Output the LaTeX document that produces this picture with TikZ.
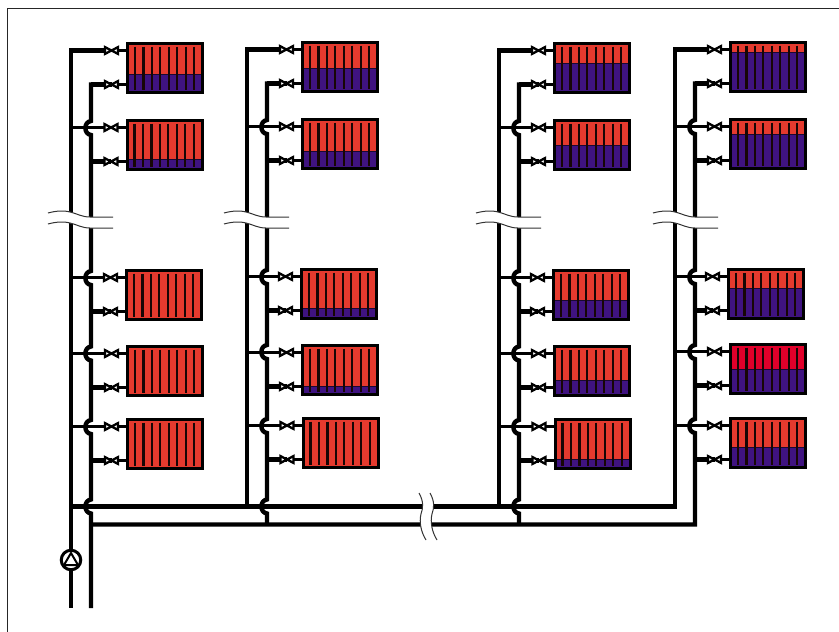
\documentclass[tikz,border=0pt]{standalone}
\definecolor{radred}{HTML}{E53A2E}
\definecolor{hotred}{HTML}{E0002A}
\definecolor{radblue}{HTML}{3F1380}
\tikzset{
  x=1pt,y=-1pt,
  pipe/.style={line width=4.4pt,line join=miter,draw=black},
  stub/.style={line width=2.6pt,draw=black},
  bowtie/.style={line width=2.3pt,draw=black,fill=white,line join=miter},
  radbox/.style={draw=black,line width=3pt,minimum width=75pt,minimum height=49pt,inner sep=0pt,anchor=north west},
  fin/.style={line width=2.2pt,draw=black!90!radred},
  breakline/.style={line width=1pt,draw=black!80}
}
\newcommand{\HopAt}[2]{-- (#1,#2-7) .. controls (#1-7.5,#2-6) and (#1-7.5,#2+6) .. (#1,#2+7)}
\newcommand{\ValveAt}[1]{%
  \draw[bowtie] ([shift={(-6.5,-3.4)}]#1) -- ([shift={(-6.5,3.4)}]#1) -- (#1) -- cycle;
  \draw[bowtie] ([shift={(6.5,-3.4)}]#1) -- ([shift={(6.5,3.4)}]#1) -- (#1) -- cycle;
}
% name, x1, x2, left, top, split, colour
\newcommand{\Radiator}[7]{%
  \fill[#7] (#4+1.5,#5+1.5) rectangle (#4+76.5,#5+50.5);
  \fill[radblue] (#4+1.5,#6) rectangle (#4+76.5,#5+50.5);
  \draw[line width=0.7pt,draw=black!60!radblue] (#4+1.5,#6) -- (#4+76.5,#6);
  \foreach \i in {0,...,7}{\draw[fin] (#4+9+\i*8.45,#5+4.5) -- (#4+9+\i*8.45,#5+47.5);}
  \node[radbox] (#1) at (#4,#5) {};
  \coordinate (#1a) at (#4-14.5,#5+8.5);
  \coordinate (#1b) at (#4-14.5,#5+42.5);
  \coordinate (#1s) at (#2,#5+8.5);
  \coordinate (#1r) at (#3,#5+42.5);
  \draw[line width=3.6pt] (#1s) -- (#1a);
  \draw[pipe] (#1r) -- (#1b);
  \draw[stub] (#1a) -- (#1a -| #1.west);
  \draw[stub] (#1b) -- (#1b -| #1.west);
  \ValveAt{#1a}
  \ValveAt{#1b}
}
\newcommand{\Vbreak}[1]{%
  \fill[white] (#1,213) .. controls (#1+8,211) and (#1+14,210) .. (#1+22,212) .. controls (#1+30,214) and (#1+34,217) .. (#1+42,217) -- (#1+65,217)
    -- (#1+65,228) -- (#1+42,228) .. controls (#1+34,228) and (#1+30,225) .. (#1+22,223) .. controls (#1+14,221) and (#1+8,222) .. (#1,224) -- cycle;
  \draw[breakline] (#1,213) .. controls (#1+8,211) and (#1+14,210) .. (#1+22,212) .. controls (#1+30,214) and (#1+34,217) .. (#1+42,217) -- (#1+65,217);
  \draw[breakline] (#1,224) .. controls (#1+8,222) and (#1+14,221) .. (#1+22,223) .. controls (#1+30,225) and (#1+34,228) .. (#1+42,228) -- (#1+65,228);
}
\begin{document}
\begin{tikzpicture}
\useasboundingbox (0,0) rectangle (839,632);
\draw[line width=1pt,draw=black!85] (7,632) -- (7,8.5) -- (839,8.5);

% column 1
\draw[pipe] (108,50.5) -- (71,50.5) -- (71,549);
\draw[pipe] (71,570) -- (71,608);
\draw[pipe] (100,84.5) -- (91,84.5) \HopAt{91}{128} \HopAt{91}{278} \HopAt{91}{353.5} \HopAt{91}{427} \HopAt{91}{506.5} -- (91,608);
% column 2
\draw[pipe] (284,49.5) -- (247,49.5) -- (247,506.5);
\draw[pipe] (276,83.5) -- (267,83.5) \HopAt{267}{127} \HopAt{267}{277} \HopAt{267}{352} \HopAt{267}{426} \HopAt{267}{506.5} -- (267,524.5);
% column 3
\draw[pipe] (536,50.5) -- (499,50.5) -- (499,506.5);
\draw[pipe] (528,84.5) -- (519,84.5) \HopAt{519}{128} \HopAt{519}{278} \HopAt{519}{353.5} \HopAt{519}{427} \HopAt{519}{506.5} -- (519,524.5);
% column 4 and the mains
\draw[pipe] (712,49.5) -- (675,49.5) -- (675,506.5) -- (71,506.5);
\draw[pipe] (704,83.5) -- (695,83.5) \HopAt{695}{127} \HopAt{695}{277} \HopAt{695}{352} \HopAt{695}{426} -- (695,524.5) -- (91,524.5);

% radiators
\Radiator{aA}{71}{91}{126}{42}{74}{radred}
\Radiator{aB}{71}{91}{125.5}{119}{159}{radred}
\Radiator{aC}{71}{91}{125}{269}{319}{radred}
\Radiator{aD}{71}{91}{126}{345}{395}{radred}
\Radiator{aE}{71}{91}{126}{418}{468}{radred}

\Radiator{bA}{247}{267}{301}{41}{68}{radred}
\Radiator{bB}{247}{267}{301}{118}{151}{radred}
\Radiator{bC}{247}{267}{300}{268}{308}{radred}
\Radiator{bD}{247}{267}{301}{344}{386}{radred}
\Radiator{bE}{247}{267}{301.5}{417}{467}{radred}

\Radiator{cA}{499}{519}{553}{42}{63}{radred}
\Radiator{cB}{499}{519}{553}{119}{145}{radred}
\Radiator{cC}{499}{519}{552}{269}{300}{radred}
\Radiator{cD}{499}{519}{553}{345}{380}{radred}
\Radiator{cE}{499}{519}{553.5}{418}{459}{radred}

\Radiator{dA}{675}{695}{729}{41}{52}{radred}
\Radiator{dB}{675}{695}{729}{118}{134}{radred}
\Radiator{dC}{675}{695}{727}{268}{288}{radred}
\Radiator{dD}{675}{695}{729}{343}{369}{hotred}
\Radiator{dE}{675}{695}{729}{417}{447}{radred}

% breaks in the risers
\Vbreak{48}
\Vbreak{224}
\Vbreak{476}
\Vbreak{653}

% break in the mains
\fill[white] (419,493) .. controls (424,502) and (423,508) .. (421,514) .. controls (419,522) and (421,532) .. (426,540)
  -- (437,540) .. controls (432,532) and (430,522) .. (432,514) .. controls (434,508) and (435,502) .. (430,493) -- cycle;
\draw[breakline] (419,493) .. controls (424,502) and (423,508) .. (421,514) .. controls (419,522) and (421,532) .. (426,540);
\draw[breakline] (430,493) .. controls (435,502) and (434,508) .. (432,514) .. controls (430,522) and (432,532) .. (437,540);

% pump
\node[circle,draw=black,fill=white,line width=3pt,minimum size=19.5pt,inner sep=0pt] (pump) at (71,560) {};
\draw[line width=2pt,line join=miter,fill=white] (71,553) -- (78,565) -- (64,565) -- cycle;
\end{tikzpicture}
\end{document}
